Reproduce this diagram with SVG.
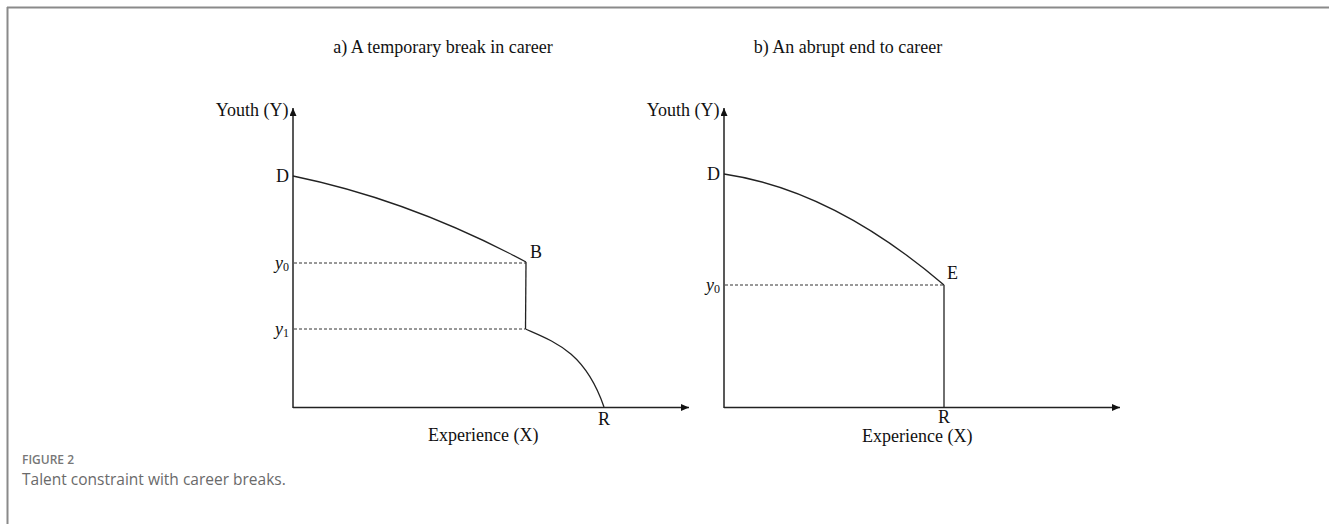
<svg xmlns="http://www.w3.org/2000/svg" width="1329" height="524" viewBox="0 0 1329 524">
<defs>
<style>
.t{font-family:"Liberation Serif","Times New Roman",serif;font-size:18px;fill:#111}
.ax{stroke:#222;stroke-width:1.5;fill:none}
.cv{stroke:#222;stroke-width:1.3;fill:none}
.ds{stroke:#333;stroke-width:1;stroke-dasharray:3,2;fill:none}
.cap1{font-family:"Open Sans","Noto Sans",sans-serif;font-size:12px;font-weight:600;fill:#777}
.cap2{font-family:"Open Sans","Noto Sans",sans-serif;font-size:15.5px;fill:#6a6a6a}
</style>
<marker id="ah" markerWidth="9" markerHeight="7" refX="8" refY="3.5" orient="auto" markerUnits="userSpaceOnUse">
<path d="M0,0 L8,3.5 L0,7 Z" fill="#111"/>
</marker>
</defs>
<rect width="1329" height="524" fill="#fff"/>
<g id="frame" stroke="#8a8a8a" stroke-width="2" fill="none">
<line x1="7" y1="7.5" x2="1329" y2="7.5"/>
<line x1="7.5" y1="7" x2="7.5" y2="524"/>
</g>
<g id="titles">
<text class="t" x="443" y="53" text-anchor="middle">a) A temporary break in career</text>
<text class="t" x="848" y="53" text-anchor="middle">b) An abrupt end to career</text>
</g>
<g id="chart-a">
<g id="connectors-a">
<line class="ax" x1="293" y1="408" x2="293" y2="108" marker-end="url(#ah)"/>
<line class="ax" x1="293" y1="407.5" x2="689" y2="407.5" marker-end="url(#ah)"/>
<path class="cv" d="M293,176 Q410,200 526,262"/>
<line class="cv" x1="526" y1="262" x2="525.5" y2="329"/>
<path class="cv" d="M525.5,329 C555,342 585,352 604,407"/>
<line class="ds" x1="294" y1="263" x2="526" y2="263"/>
<line class="ds" x1="294" y1="329" x2="525" y2="329"/>
</g>
<g id="labels-a">
<text class="t" x="288.5" y="116" text-anchor="end">Youth (Y)</text>
<text class="t" x="276" y="182">D</text>
<text class="t" x="530" y="258">B</text>
<text class="t" x="275" y="269"><tspan font-style="italic">y</tspan><tspan font-size="12" dy="2">0</tspan></text>
<text class="t" x="275" y="335"><tspan font-style="italic">y</tspan><tspan font-size="12" dy="2">1</tspan></text>
<text class="t" x="598" y="425">R</text>
<text class="t" x="428" y="441">Experience (X)</text>
</g>
</g>
<g id="chart-b">
<g id="connectors-b">
<line class="ax" x1="724" y1="408" x2="724" y2="108" marker-end="url(#ah)"/>
<line class="ax" x1="724" y1="407.5" x2="1120" y2="407.5" marker-end="url(#ah)"/>
<path class="cv" d="M724,174 Q833,190 944,285"/>
<line class="cv" x1="944" y1="285" x2="944" y2="408"/>
<line class="ds" x1="725" y1="285" x2="944" y2="285"/>
</g>
<g id="labels-b">
<text class="t" x="719.5" y="116" text-anchor="end">Youth (Y)</text>
<text class="t" x="707" y="180">D</text>
<text class="t" x="947" y="279">E</text>
<text class="t" x="706" y="291"><tspan font-style="italic">y</tspan><tspan font-size="12" dy="2">0</tspan></text>
<text class="t" x="944" y="423" text-anchor="middle">R</text>
<text class="t" x="862" y="442">Experience (X)</text>
</g>
</g>
<g id="caption">
<text class="cap1" x="22" y="464">FIGURE 2</text>
<text class="cap2" x="22" y="485">Talent constraint with career breaks.</text>
</g>
</svg>
